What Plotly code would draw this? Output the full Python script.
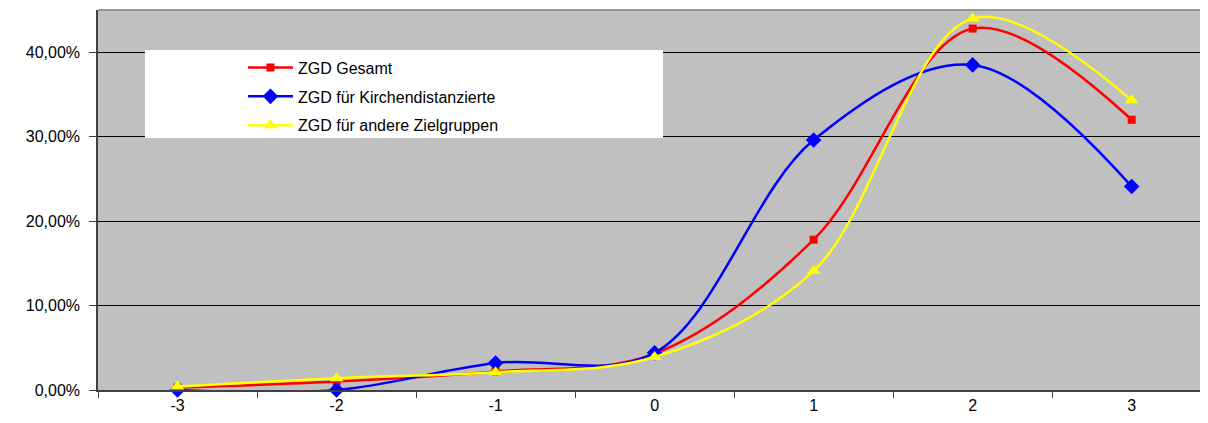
import plotly.graph_objects as go

categories = ["-3", "-2", "-1", "0", "1", "2", "3"]
gesamt = [0.003, 0.010, 0.022, 0.043, 0.178, 0.428, 0.320]
kirchendistanzierte = [0.000, 0.000, 0.032, 0.044, 0.296, 0.385, 0.241]
andere = [0.004, 0.014, 0.021, 0.039, 0.141, 0.440, 0.343]
y_ticks = [0, 0.1, 0.2, 0.3, 0.4]
y_labels = ["0,00%", "10,00%", "20,00%", "30,00%", "40,00%"]

series = [
    ("ZGD Gesamt", gesamt, "#FF0000", "square", 8),
    ("ZGD für Kirchendistanzierte", kirchendistanzierte, "#0000FF", "diamond", 12),
    ("ZGD für andere Zielgruppen", andere, "#FFFF00", "triangle-up", 12),
]

fig = go.Figure()
for i, (name, vals, color, symbol, size) in enumerate(series):
    fig.add_trace(
        go.Scatter(
            x=categories,
            y=vals,
            name=name,
            mode="lines+markers",
            line=dict(color=color, width=2.5, shape="spline", smoothing=1),
            marker=dict(color=color, symbol=symbol, size=size),
            cliponaxis=False,
            legendgroup=f"g{i}",
        )
    )

# white legend panel like the original
fig.add_shape(
    type="rect", xref="paper", yref="paper",
    x0=0.0423, x1=0.509, y0=0.663, y1=0.895,
    fillcolor="white", line=dict(width=0), layer="above",
)
# grey top border of the plot area
fig.add_shape(
    type="line", xref="paper", yref="paper",
    x0=0, x1=1, y0=1, y1=1, line=dict(color="#808080", width=1.5),
)

fig.update_layout(
    width=1200,
    height=415,
    plot_bgcolor="#C0C0C0",
    paper_bgcolor="white",
    margin=dict(l=90, r=0, t=2, b=33),
    font=dict(family="Liberation Sans, Arial, sans-serif", color="black", size=16),
    showlegend=True,
    legend=dict(
        x=0.1306, y=0.893, xanchor="left", yanchor="top",
        bgcolor="rgba(0,0,0,0)", font=dict(size=16),
        traceorder="grouped", tracegroupgap=5, itemwidth=45,
    ),
    xaxis=dict(
        type="category",
        range=[-0.5, 6.48],
        tickson="boundaries",
        ticks="outside",
        ticklen=6,
        tickcolor="#404040",
        showgrid=False,
        showline=True,
        linecolor="#404040",
        linewidth=1.5,
        tickfont=dict(size=16),
    ),
    yaxis=dict(
        range=[0, 0.45],
        tickvals=y_ticks,
        ticktext=y_labels,
        ticks="outside",
        ticklen=7,
        ticklabelstandoff=6,
        tickcolor="#404040",
        showgrid=True,
        gridcolor="black",
        gridwidth=1,
        zeroline=False,
        showline=True,
        linecolor="#404040",
        linewidth=1.5,
        tickfont=dict(size=16),
    ),
)

fig.write_html("out.html")
